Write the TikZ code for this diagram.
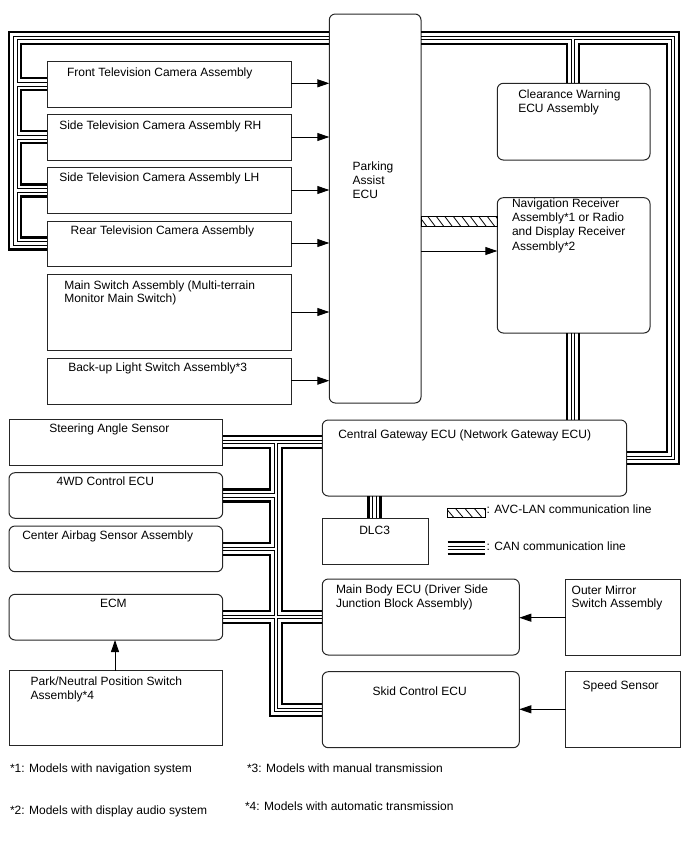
\documentclass[tikz,border=0pt]{standalone}
\usepackage{fontspec}
\setmainfont{Liberation Sans}
\usetikzlibrary{arrows.meta}
\begin{document}
\begin{tikzpicture}[x=1pt,y=-1pt,
  box/.style={draw=black!85, line width=1pt, inner sep=0pt, outer sep=0pt, anchor=north west},
  rbox/.style={box, rounded corners=6pt},
  txt/.style={anchor=base west, inner sep=0pt, outer sep=0pt, font=\fontsize{12}{14}\selectfont},
  ct/.style={line width=2.3pt},
  cn/.style={line width=0.9pt},
  arr/.style={line width=0.9pt, -{Triangle[length=12pt,width=8pt]}},
  hatch/.style={line width=0.8pt}
]
\useasboundingbox (0,0) rectangle (688,852);

% ---------- boxes ----------
\node[box, minimum width=244pt, minimum height=46pt] (front) at (47.3,61.3) {};
\node[box, minimum width=244pt, minimum height=46pt] (rh) at (47.3,114.3) {};
\node[box, minimum width=244pt, minimum height=45.6pt] (lh) at (47.3,167.7) {};
\node[box, minimum width=244pt, minimum height=45pt] (rear) at (47.3,221) {};
\node[box, minimum width=244pt, minimum height=76.3pt] (ms) at (47.3,274) {};
\node[box, minimum width=244pt, minimum height=46pt] (bu) at (47.3,358) {};
\node[rbox, minimum width=91.7pt, minimum height=389pt] (pa) at (329.3,14) {};
\node[rbox, minimum width=152.7pt, minimum height=76.7pt] (cw) at (497.3,83.3) {};
\node[rbox, minimum width=152.7pt, minimum height=135.3pt] (nav) at (497.3,197.7) {};
\node[rbox, minimum width=304.4pt, minimum height=76pt] (gw) at (322.3,420) {};
\node[box, minimum width=106.4pt, minimum height=45.7pt] (dlc) at (322.3,518.3) {};
\node[rbox, minimum width=197pt, minimum height=76pt] (mb) at (322.3,579) {};
\node[box, minimum width=114.3pt, minimum height=76.7pt] (om) at (565.7,579) {};
\node[rbox, minimum width=197pt, minimum height=76pt] (skid) at (322.3,671.7) {};
\node[box, minimum width=114.3pt, minimum height=76pt] (speed) at (565.7,671.7) {};
\node[box, minimum width=213.7pt, minimum height=45.7pt] (sas) at (9,419.3) {};
\node[rbox, minimum width=213.7pt, minimum height=45.6pt] (wd) at (9,472.7) {};
\node[rbox, minimum width=213.7pt, minimum height=45.7pt] (ab) at (9,526) {};
\node[rbox, minimum width=213.7pt, minimum height=45.7pt] (ecm) at (9,594.3) {};
\node[box, minimum width=213.7pt, minimum height=74.5pt] (pn) at (9,670.7) {};

% ---------- labels ----------
\node[txt] (frontT) at (67,76) {Front Television Camera Assembly};
\node[txt] (rhT) at (59.3,129) {Side Television Camera Assembly RH};
\node[txt] (lhT) at (59.3,181.7) {Side Television Camera Assembly LH};
\node[txt] (rearT) at (70.7,234.3) {Rear Television Camera Assembly};
\node[txt] (msT1) at (64.3,289) {Main Switch Assembly (Multi-terrain};
\node[txt] (msT2) at (64.3,302.7) {Monitor Main Switch)};
\node[txt] (buT) at (68.3,371) {Back-up Light Switch Assembly*3};
\node[txt] (paT1) at (352.7,170.7) {Parking};
\node[txt] (paT2) at (352.7,184.7) {Assist};
\node[txt] (paT3) at (352.7,198.7) {ECU};
\node[txt] (cwT1) at (518.3,98.3) {Clearance Warning};
\node[txt] (cwT2) at (518.3,112.3) {ECU Assembly};
\node[txt] (navT1) at (512,207.7) {Navigation Receiver};
\node[txt] (navT2) at (512,221.8) {Assembly*1 or Radio};
\node[txt] (navT3) at (512,235.9) {and Display Receiver};
\node[txt] (navT4) at (512,250) {Assembly*2};
\node[txt] (gwT) at (338.3,438.3) {Central Gateway ECU (Network Gateway ECU)};
\node[txt] (dlcT) at (359.3,534) {DLC3};
\node[txt] (lg1) at (486.7,513.3) {: AVC-LAN communication line};
\node[txt] (lg2) at (486.7,550) {: CAN communication line};
\node[txt] (mbT1) at (336,593.3) {Main Body ECU (Driver Side};
\node[txt] (mbT2) at (336,607.7) {Junction Block Assembly)};
\node[txt] (omT1) at (571.7,594) {Outer Mirror};
\node[txt] (omT2) at (571.7,607.7) {Switch Assembly};
\node[txt] (skidT) at (372.7,695) {Skid Control ECU};
\node[txt] (speedT) at (582.7,689) {Speed Sensor};
\node[txt] (sasT) at (49.3,432.3) {Steering Angle Sensor};
\node[txt] (wdT) at (56.7,485.7) {4WD Control ECU};
\node[txt] (abT) at (22.3,539) {Center Airbag Sensor Assembly};
\node[txt] (ecmT) at (100,607.3) {ECM};
\node[txt] (pnT1) at (30.7,685) {Park/Neutral Position Switch};
\node[txt] (pnT2) at (30.7,699) {Assembly*4};
\node[txt] (fn1) at (10,772) {*1: Models with navigation system};
\node[txt] (fn3) at (247,772) {*3: Models with manual transmission};
\node[txt] (fn2) at (10,814) {*2: Models with display audio system};
\node[txt] (fn4) at (245,810) {*4: Models with automatic transmission};

% ---------- arrows ----------
\draw[arr] (front.east |- 0,83.3) -- (pa.west |- 0,83.3);
\draw[arr] (rh.east |- 0,137) -- (pa.west |- 0,137);
\draw[arr] (lh.east |- 0,190) -- (pa.west |- 0,190);
\draw[arr] (rear.east |- 0,243) -- (pa.west |- 0,243);
\draw[arr] (ms.east |- 0,312) -- (pa.west |- 0,312);
\draw[arr] (bu.east |- 0,380.7) -- (pa.west |- 0,380.7);
\draw[arr] (pa.east |- 0,251) -- (nav.west |- 0,251);
\draw[arr] (om.west |- 0,617.7) -- (mb.east |- 0,617.7);
\draw[arr] (speed.west |- 0,709.3) -- (skid.east |- 0,709.3);
\draw[arr] (pn.north -| 115,0) -- (ecm.south -| 115,0);

% ---------- AVC-LAN ----------
\draw[line width=0.9pt] (pa.east |- 0,216) rectangle (nav.west |- 0,226.7);
\begin{scope}
\clip (pa.east |- 0,216) rectangle (nav.west |- 0,226.7);
\foreach \i in {0,...,9} \draw[hatch] (419+\i*8.5,216) -- ++(8,10.7);
\end{scope}
\draw[line width=0.9pt] (447.7,508.3) rectangle (485.3,517.7);
\begin{scope}
\clip (447.7,508.3) rectangle (485.3,517.7);
\foreach \i in {0,...,4} \draw[hatch] (446+\i*9.4,508.3) -- ++(8,9.4);
\end{scope}

% ---------- CAN legend ----------
\draw[ct] (447.7,542) -- (485.3,542);
\draw[cn] (447.7,546.3) -- (485.3,546.3);
\draw[cn] (447.7,549.7) -- (485.3,549.7);
\draw[ct] (447.7,554) -- (485.3,554);

% ---------- CAN: top-left ring ----------
\draw[ct] (pa.west |- 0,31.7) -| (9.3,249.5) -- (rear.west |- 0,249.5);
\draw[cn] (pa.west |- 0,36) -| (13.6,245.2) -- (rear.west |- 0,245.2);
\draw[cn] (pa.west |- 0,39.4) -| (17,82.6) -- (front.west |- 0,82.6);
\draw[ct] (pa.west |- 0,43.7) -| (21.3,78.3) -- (front.west |- 0,78.3);
\draw[ct] (front.west |- 0,90.3) -| (21.3,131.3) -- (rh.west |- 0,131.3);
\draw[cn] (front.west |- 0,86) -| (17,135.6) -- (rh.west |- 0,135.6);
\draw[ct] (rh.west |- 0,143.3) -| (21.3,184.5) -- (lh.west |- 0,184.5);
\draw[cn] (rh.west |- 0,139) -| (17,188.8) -- (lh.west |- 0,188.8);
\draw[ct] (lh.west |- 0,196.5) -| (21.3,237.5) -- (rear.west |- 0,237.5);
\draw[cn] (lh.west |- 0,192.2) -| (17,241.8) -- (rear.west |- 0,241.8);

% ---------- CAN: top-right ring ----------
\draw[ct] (pa.east |- 0,31.7) -| (678.7,463.7) -- (gw.east |- 0,463.7);
\draw[cn] (pa.east |- 0,36) -| (674.4,459.4) -- (gw.east |- 0,459.4);
\draw[cn] (pa.east |- 0,39.4) -| (cw.north -| 571.2,0);
\draw[ct] (pa.east |- 0,43.7) -| (cw.north -| 566.9,0);
\draw[cn] (cw.north -| 574.6,0) |- (671,39.4) -- (671,456) -- (gw.east |- 0,456);
\draw[ct] (cw.north -| 578.9,0) |- (666.7,43.7) -- (666.7,451.7) -- (gw.east |- 0,451.7);

% nav -> gateway
\draw[ct] (nav.south -| 566.9,0) -- (gw.north -| 566.9,0);
\draw[cn] (nav.south -| 571.2,0) -- (gw.north -| 571.2,0);
\draw[cn] (nav.south -| 574.6,0) -- (gw.north -| 574.6,0);
\draw[ct] (nav.south -| 578.9,0) -- (gw.north -| 578.9,0);

% gateway -> DLC3
\draw[ct] (gw.south -| 368.5,0) -- (dlc.north -| 368.5,0);
\draw[cn] (gw.south -| 372.8,0) -- (dlc.north -| 372.8,0);
\draw[cn] (gw.south -| 376.2,0) -- (dlc.north -| 376.2,0);
\draw[ct] (gw.south -| 380.5,0) -- (dlc.north -| 380.5,0);

% ---------- CAN: bottom-left ----------
\draw[ct] (gw.west |- 0,436.15) -- (sas.east |- 0,436.15);
\draw[cn] (gw.west |- 0,440.45) -- (sas.east |- 0,440.45);
\draw[cn] (sas.east |- 0,443.85) -| (274.3,493.8) -- (wd.east |- 0,493.8);
\draw[ct] (sas.east |- 0,448.15) -| (270,489.5) -- (wd.east |- 0,489.5);
\draw[cn] (gw.west |- 0,443.85) -| (277.7,615.3) -- (mb.west |- 0,615.3);
\draw[ct] (gw.west |- 0,448.15) -| (282,611) -- (mb.west |- 0,611);
\draw[ct] (wd.east |- 0,501.5) -| (270,542.85) -- (ab.east |- 0,542.85);
\draw[cn] (wd.east |- 0,497.2) -| (274.3,547.15) -- (ab.east |- 0,547.15);
\draw[ct] (ab.east |- 0,554.85) -| (270,611.15) -- (ecm.east |- 0,611.15);
\draw[cn] (ab.east |- 0,550.55) -| (274.3,615.45) -- (ecm.east |- 0,615.45);
\draw[ct] (ecm.east |- 0,623.15) -| (270,715.7) -- (skid.west |- 0,715.7);
\draw[cn] (ecm.east |- 0,618.85) -| (274.3,711.4) -- (skid.west |- 0,711.4);
\draw[ct] (mb.west |- 0,623) -| (282,703.7) -- (skid.west |- 0,703.7);
\draw[cn] (mb.west |- 0,618.7) -| (277.7,708) -- (skid.west |- 0,708);
\end{tikzpicture}
\end{document}
